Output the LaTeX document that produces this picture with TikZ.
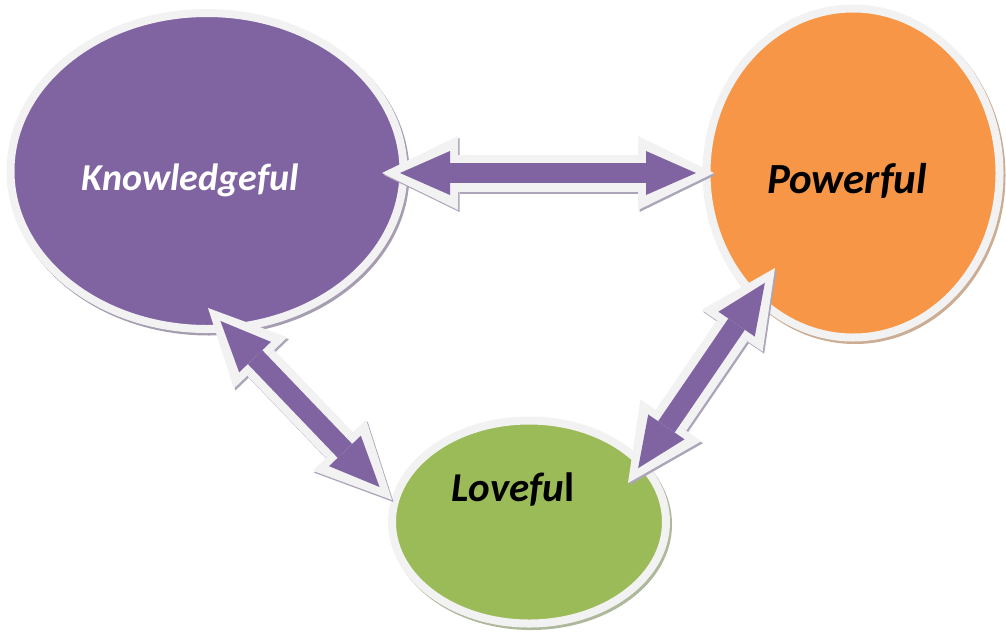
\documentclass[tikz,border=0pt]{standalone}
\usepackage{fontspec}
\setmainfont{Carlito}
\usetikzlibrary{shapes.geometric,arrows.meta}
\definecolor{kpurple}{HTML}{8064A2}
\definecolor{porange}{HTML}{F79646}
\definecolor{lgreen}{HTML}{9BBB59}
\definecolor{rimgray}{HTML}{F2F2F2}
\definecolor{shadegray}{HTML}{ACA4B8}
\begin{document}
\begin{tikzpicture}[x=1pt,y=-1pt,
  bubble/.style={ellipse, fill=#1, draw=rimgray, line width=8pt, inner sep=0pt,
    preaction={draw=#1!45!gray!70!white, fill=#1!45!gray!70!white, transform canvas={shift={(2pt,-2.5pt)}}}},
  word/.style={font=\bfseries\itshape\fontsize{#1}{#1}\selectfont},
  fattip/.style={arrows={Triangle[width=#1,length=50pt,line width=0pt]-Triangle[width=#1,length=50pt,line width=0pt]}},
  rimtip/.style={arrows={Triangle[width=74pt,length=76pt,line width=0pt]-Triangle[width=74pt,length=76pt,line width=0pt]}},
  link/.style={draw=kpurple, line width=20pt, shorten <=18pt, shorten >=18pt, fattip=44pt,
    preaction={draw=shadegray, line width=37pt, shorten <=0pt, shorten >=0pt, rimtip,
      transform canvas={shift={(1.5pt,-2pt)}}},
    preaction={draw=rimgray, line width=37pt, shorten <=0pt, shorten >=0pt, rimtip}}]
\useasboundingbox (0,0) rectangle (1006,633);
\node[bubble=kpurple, minimum width=393pt, minimum height=316pt] (know) at (207,171) {};
\node[bubble=porange, minimum width=293pt, minimum height=329pt] (power) at (853,173) {};
\node[bubble=lgreen, minimum width=274pt, minimum height=203pt] (love) at (529,522) {};
\coordinate (kp1) at (382,173);
\coordinate (kp2) at (714,173);
\coordinate (kl1) at (208,308);
\coordinate (kl2) at (392,500);
\coordinate (pl1) at (775,268);
\coordinate (pl2) at (628,483);
\draw[link] (kp1) -- (kp2);
\draw[link] (kl1) -- (kl2);
\draw[link] (pl1) -- (pl2);
\node[word=38, text=white] (knowtext) at (190,180) {Knowledgeful};
\node[word=43] (powertext) at (847,181) {Powerful};
\node[word=41] (lovetext) at (513,489) {Lovefu\textup{l}};
\end{tikzpicture}
\end{document}
